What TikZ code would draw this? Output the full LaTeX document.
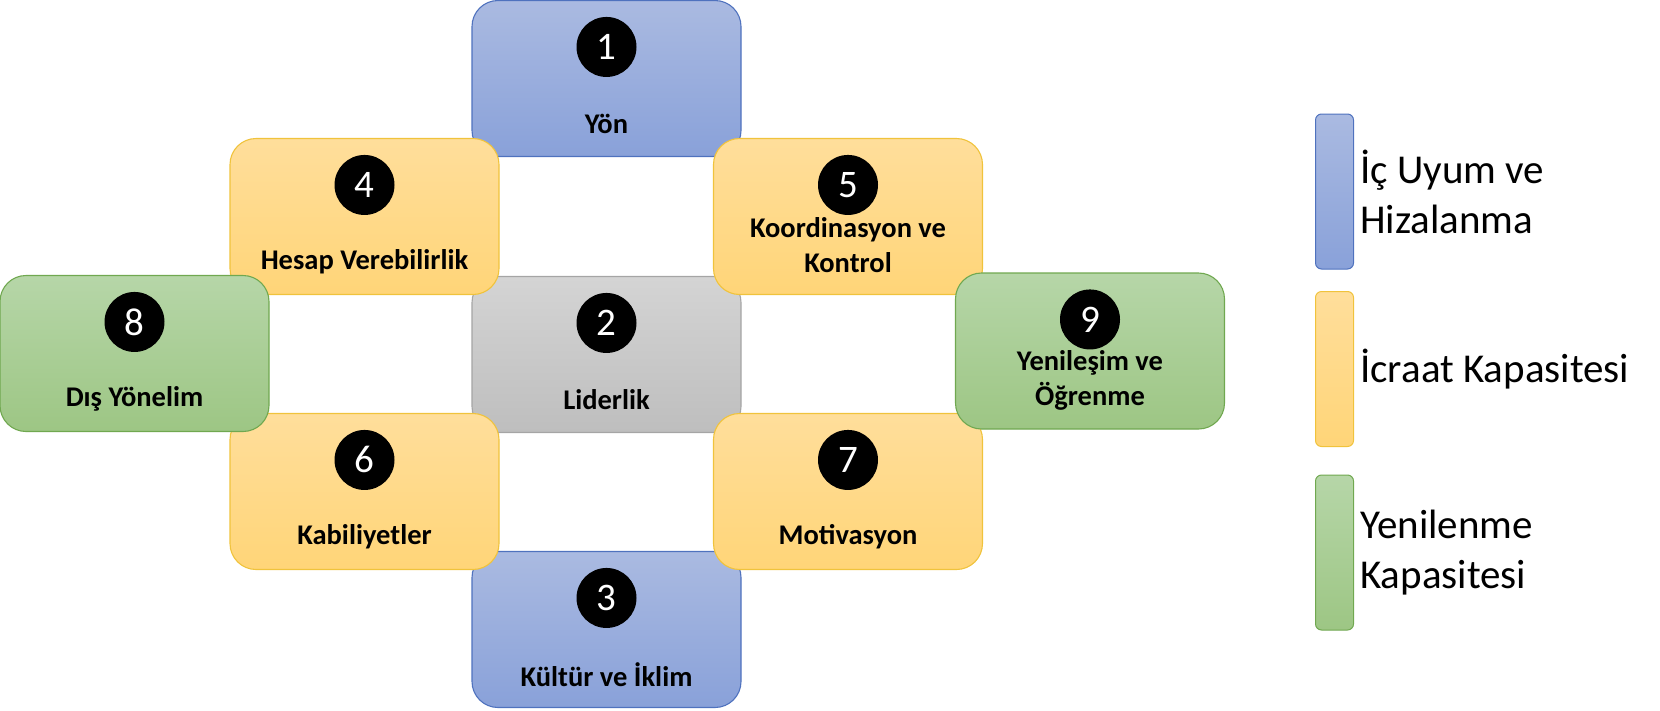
\documentclass[tikz,border=0pt]{standalone}
\usepackage{fontspec}
\setmainfont{Carlito}
\definecolor{blueT}{RGB}{170,186,225}
\definecolor{blueB}{RGB}{137,161,217}
\definecolor{blueL}{RGB}{79,114,190}
\definecolor{yelT}{RGB}{255,222,155}
\definecolor{yelB}{RGB}{255,213,120}
\definecolor{yelL}{RGB}{240,195,60}
\definecolor{grnT}{RGB}{182,214,168}
\definecolor{grnB}{RGB}{157,198,132}
\definecolor{grnL}{RGB}{112,168,80}
\definecolor{gryT}{RGB}{212,212,212}
\definecolor{gryB}{RGB}{190,190,190}
\definecolor{gryL}{RGB}{165,165,165}
\tikzset{
  card/.style={rectangle, rounded corners=26pt, minimum width=269pt, minimum height=156pt, line width=1.1pt, inner sep=0pt},
  bluecard/.style={card, draw=blueL, top color=blueT, bottom color=blueB},
  yelcard/.style={card, draw=yelL, top color=yelT, bottom color=yelB},
  grncard/.style={card, draw=grnL, top color=grnT, bottom color=grnB},
  grycard/.style={card, draw=gryL, top color=gryT, bottom color=gryB},
  num/.style={circle, fill=black, text=white, minimum size=60pt, inner sep=0pt, font=\fontsize{39}{40}\selectfont},
  lbl/.style={align=center, inner sep=0pt, font=\fontsize{28.5}{35}\selectfont\bfseries},
  legbar/.style={rectangle, rounded corners=6pt, minimum width=38pt, minimum height=155pt, line width=1pt, inner sep=0pt},
  legtxt/.style={anchor=west, align=left, inner sep=0pt, font=\fontsize{41}{50}\selectfont},
}
\begin{document}
\begin{tikzpicture}[x=1pt, y=-1pt]
\useasboundingbox (0,0) rectangle (1660,710);
% back layer
\node[bluecard] (box1) at (606.5,78.5) {};
\node[bluecard] (box3) at (606.5,629.5) {};
\node[grycard] (box2) at (606.5,354.5) {};
% middle layer
\node[yelcard] (box4) at (364.5,216.5) {};
\node[yelcard] (box5) at (848,216.5) {};
\node[yelcard] (box6) at (364.5,491.5) {};
\node[yelcard] (box7) at (848,491.5) {};
% front layer
\node[grncard] (box8) at (134.5,353.5) {};
\node[grncard] (box9) at (1090,351) {};
% numbers
\foreach \i in {1,...,9} {
  \node[num] (c\i) at ([yshift=-47pt]box\i.north) {\i};
}
% labels
\node[lbl] (t1) at ([yshift=-124pt]box1.north) {Yön};
\node[lbl] (t2) at ([yshift=-124pt]box2.north) {Liderlik};
\node[lbl] (t3) at ([yshift=-124pt]box3.north) {Kültür ve İklim};
\node[lbl] (t4) at ([yshift=-124pt]box4.north) {Hesap Verebilirlik};
\node[lbl] (t5) at ([yshift=-107.5pt]box5.north) {Koordinasyon ve\\Kontrol};
\node[lbl] (t6) at ([yshift=-124pt]box6.north) {Kabiliyetler};
\node[lbl] (t7) at ([yshift=-124pt]box7.north) {Motivasyon};
\node[lbl] (t8) at ([yshift=-124pt]box8.north) {Dış Yönelim};
\node[lbl] (t9) at ([yshift=-107.5pt]box9.north) {Yenileşim ve\\Öğrenme};
% legend
\node[legbar, draw=blueL, top color=blueT, bottom color=blueB] (lg1) at (1334.5,191.5) {};
\node[legbar, draw=yelL, top color=yelT, bottom color=yelB] (lg2) at (1334.5,369) {};
\node[legbar, draw=grnL, top color=grnT, bottom color=grnB] (lg3) at (1334.5,552.5) {};
\node[legtxt] (lt1) at ([xshift=6pt]lg1.east) {İç Uyum ve\\Hizalanma};
\node[legtxt] (lt2) at ([xshift=6pt]lg2.east) {İcraat Kapasitesi};
\node[legtxt] (lt3) at ([xshift=6pt]lg3.east) {Yenilenme\\Kapasitesi};
\end{tikzpicture}
\end{document}
